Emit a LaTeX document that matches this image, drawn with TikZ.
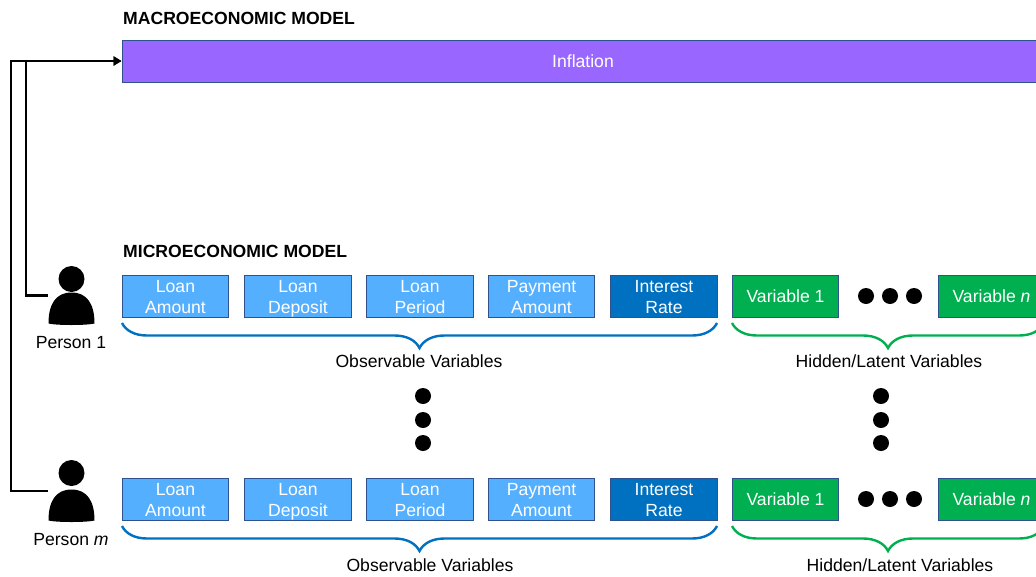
\documentclass[tikz,border=0pt]{standalone}
\usepackage{fontspec}
\setmainfont{Liberation Sans}
\usepackage{xcolor}
\usetikzlibrary{decorations.pathreplacing, arrows.meta, positioning}
\definecolor{macropurple}{RGB}{153,102,255}
\definecolor{loanblue}{RGB}{85,175,255}
\definecolor{ratedark}{RGB}{0,112,192}
\definecolor{latentgreen}{RGB}{0,176,80}
\definecolor{edgeblue}{RGB}{47,82,143}
\newcommand{\capstrut}{\rule{0pt}{16.4pt}}

\begin{document}
\begin{tikzpicture}[
    x=1pt, y=-1pt,
    box/.style={rectangle, draw=edgeblue, line width=1pt, text=white, minimum width=106.5pt, minimum height=42.5pt, inner sep=0pt, align=center, font=\fontsize{17.6}{21}\selectfont, execute at end node={\rule[-3.8pt]{0pt}{3.8pt}}},
    obsbox/.style={box, fill=loanblue},
    ratebox/.style={box, fill=ratedark},
    varbox/.style={box, fill=latentgreen},
    macrobox/.style={box, fill=macropurple, minimum width=922pt, minimum height=42pt},
    heading/.style={anchor=west, inner sep=0pt, font=\fontsize{17.6}{21}\selectfont\bfseries},
    caption/.style={inner sep=0pt, font=\fontsize{17.6}{21}\selectfont},
    dot/.style={circle, fill=black, minimum size=16pt, inner sep=0pt},
    bluebrace/.style={draw=ratedark, line width=2.4pt, decorate, decoration={brace, mirror, amplitude=25pt}},
    greenbrace/.style={draw=latentgreen, line width=2.4pt, decorate, decoration={brace, mirror, amplitude=25pt}},
    person/.style={minimum width=47pt, minimum height=60pt, inner sep=0pt, path picture={
        \fill[black] ([yshift=-13.5pt]path picture bounding box.north) circle (13pt);
        \fill[black] ([xshift=0.5pt,yshift=2pt]path picture bounding box.south west)
            .. controls +(0,19pt) and +(-16pt,0) .. ([yshift=33pt]path picture bounding box.south)
            .. controls +(16pt,0) and +(0,19pt) .. ([xshift=-0.5pt,yshift=2pt]path picture bounding box.south east)
            .. controls +(-8pt,-2pt) and +(8pt,-2pt) .. cycle;
    }},
    arrow/.style={-{Triangle[length=8pt,width=9pt]}, line width=2.4pt}
]
    \useasboundingbox (0,0) rectangle (1036,576);
    \clip (0,0) rectangle (1036,576);

    % Macroeconomic model
    \node[heading] (macrotitle) at (123,18) {MACROECONOMIC MODEL};
    \node[macrobox] (inflation) at (583,61) {\capstrut Inflation};

    % Microeconomic model, first person
    \node[heading] (microtitle) at (123,251) {MICROECONOMIC MODEL};
    \node[person] (person1) at (71.5,295.5) {};
    \node[caption] (person1label) at (71,343) {Person 1};
    \node[obsbox] (amount1) at (175.5,296.5) {\capstrut Loan\\Amount};
    \node[obsbox] (deposit1) at (298,296.5) {\capstrut Loan\\Deposit};
    \node[obsbox] (period1) at (420,296.5) {\capstrut Loan\\Period};
    \node[obsbox] (payment1) at (541.5,296.5) {\capstrut Payment\\Amount};
    \node[ratebox] (rate1) at (664,296.5) {\capstrut Interest\\Rate};
    \node[varbox] (varone1) at (785.5,296.5) {\capstrut Variable 1};
    \node[varbox] (varn1) at (991.5,296.5) {\capstrut Variable \textit{n}};

    % Microeconomic model, last person
    \node[person, minimum height=63pt] (personm) at (71.5,491) {};
    \node[caption] (personmlabel) at (71,540) {Person \textit{m}};
    \node[obsbox] (amountm) at (175.5,499.5) {\capstrut Loan\\Amount};
    \node[obsbox] (depositm) at (298,499.5) {\capstrut Loan\\Deposit};
    \node[obsbox] (periodm) at (420,499.5) {\capstrut Loan\\Period};
    \node[obsbox] (paymentm) at (541.5,499.5) {\capstrut Payment\\Amount};
    \node[ratebox] (ratem) at (664,499.5) {\capstrut Interest\\Rate};
    \node[varbox] (varonem) at (785.5,499.5) {\capstrut Variable 1};
    \node[varbox] (varnm) at (991.5,499.5) {\capstrut Variable \textit{n}};

    % Dots
    \foreach \px in {866,890,914} {
        \node[dot] (dota\px) at (\px,296) {};
        \node[dot] (dotb\px) at (\px,499) {};
    }
    \foreach \py in {396,420,443} {
        \node[dot] (dotc\py) at (423,\py) {};
        \node[dot] (dotd\py) at (881,\py) {};
    }

    % Braces
    \draw[bluebrace] (122,323) -- (717,323);
    \draw[greenbrace] (732,323) -- (1044,323);
    \draw[bluebrace] (122,526) -- (717,526);
    \draw[greenbrace] (732,526) -- (1044,526);
    \node[caption] (obs1) at (419,361) {Observable Variables};
    \node[caption] (hid1) at (889,361) {Hidden/Latent Variables};
    \node[caption] (obsm) at (430,565) {Observable Variables};
    \node[caption] (hidm) at (900,565) {Hidden/Latent Variables};

    % Links to macro model
    \coordinate (bend1) at (26,61);
    \coordinate (bendm) at (11,61);
    \draw[arrow] (person1.west) -| (bend1) -- (inflation.west);
    \draw[arrow] (personm.west) -| (bendm) -- (inflation.west);
\end{tikzpicture}
\end{document}
